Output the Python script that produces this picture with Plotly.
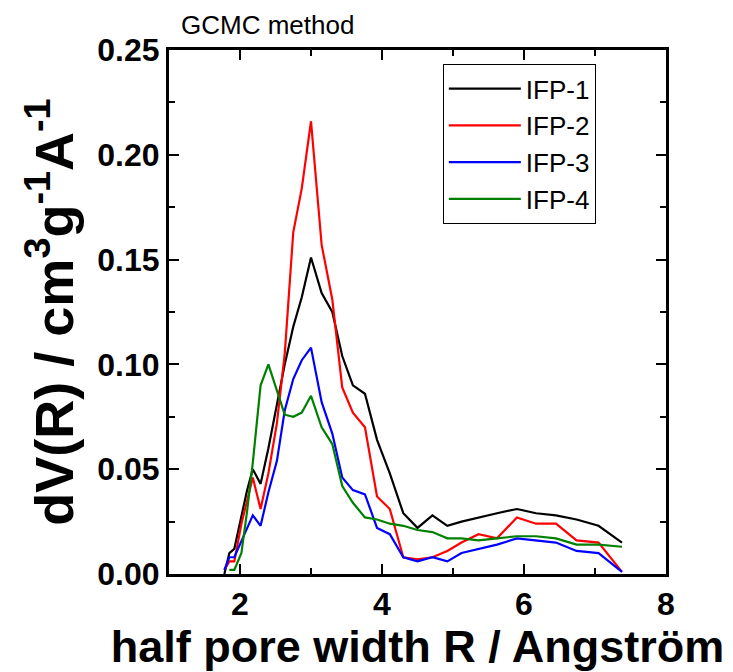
import plotly.graph_objects as go

radius = [1.78, 1.85, 1.92, 2.02, 2.10, 2.18, 2.29, 2.40, 2.52, 2.63, 2.75, 2.87, 3.00,
          3.15, 3.30, 3.44, 3.59, 3.76, 3.93, 4.11, 4.30, 4.50, 4.71, 4.92, 5.12, 5.36,
          5.62, 5.90, 6.17, 6.45, 6.74, 7.05, 7.38]

ifp1 = [0.000, 0.010, 0.012, 0.028, 0.040, 0.050, 0.043, 0.060, 0.080, 0.100, 0.118, 0.132, 0.151,
        0.134, 0.125, 0.104, 0.090, 0.086, 0.064, 0.048, 0.029, 0.022, 0.028, 0.023, 0.025, 0.027,
        0.029, 0.031, 0.029, 0.028, 0.026, 0.023, 0.015]
ifp2 = [0.002, 0.006, 0.006, 0.024, 0.035, 0.046, 0.031, 0.048, 0.072, 0.105, 0.163, 0.184, 0.216,
        0.157, 0.131, 0.089, 0.077, 0.070, 0.037, 0.031, 0.008, 0.007, 0.008, 0.011, 0.015, 0.019,
        0.017, 0.027, 0.024, 0.024, 0.016, 0.015, 0.001]
ifp3 = [0.002, 0.008, 0.008, 0.016, 0.022, 0.028, 0.023, 0.039, 0.054, 0.078, 0.093, 0.102, 0.108,
        0.082, 0.067, 0.046, 0.040, 0.038, 0.022, 0.019, 0.008, 0.006, 0.008, 0.006, 0.010, 0.012,
        0.014, 0.017, 0.016, 0.015, 0.011, 0.010, 0.001]
ifp4 = [None, 0.002, 0.002, 0.010, 0.030, 0.053, 0.090, 0.100, 0.088, 0.076, 0.075, 0.077, 0.085,
        0.070, 0.062, 0.042, 0.034, 0.027, 0.026, 0.024, 0.023, 0.021, 0.020, 0.017, 0.017, 0.016,
        0.017, 0.018, 0.018, 0.017, 0.014, 0.014, 0.013]

names = ["IFP-1", "IFP-2", "IFP-3", "IFP-4"]
colors = ["#000000", "#FF0000", "#0000FF", "#008000"]
series = [ifp1, ifp2, ifp3, ifp4]

fig = go.Figure()
for n, c, s in zip(names, colors, series):
    fig.add_trace(go.Scatter(x=radius, y=s, mode="lines", name=n,
                             line=dict(color=c, width=2.2)))

axis_common = dict(
    showline=True, linecolor="black", linewidth=3, mirror="allticks",
    ticks="inside", ticklen=10, tickwidth=2, tickcolor="black",
    showgrid=False, zeroline=False,
    tickfont=dict(family="Arial", size=32, color="black", weight="bold"),
    minor=dict(ticks="inside", ticklen=6, tickwidth=2, tickcolor="black"),
)

fig.update_xaxes(range=[1, 8], tickvals=[2, 4, 6, 8], ticktext=["2", "4", "6", "8"],
                 minor_tickvals=[1, 3, 5, 7],
                 title=dict(text="half pore width R / Angström",
                            font=dict(family="Arial", size=45, color="black", weight="bold"),
                            standoff=4),
                 **axis_common)
fig.update_yaxes(range=[0, 0.25], tickvals=[0, 0.05, 0.10, 0.15, 0.20, 0.25],
                 ticktext=["0.00", "0.05", "0.10", "0.15", "0.20", "0.25"],
                 minor_tickvals=[0.025, 0.075, 0.125, 0.175, 0.225],
                 title=dict(text="dV(R) / cm<sup>3</sup>g<sup>-1</sup>A<sup>-1</sup>",
                            font=dict(family="Arial", size=54, color="black", weight="bold"),
                            standoff=7),
                 **axis_common)

fig.update_layout(
    width=733, height=672,
    margin=dict(l=169, r=67, t=50, b=98),
    plot_bgcolor="white", paper_bgcolor="white",
    showlegend=True,
    legend=dict(x=0.551, y=0.973, xanchor="left", yanchor="top",
                bordercolor="black", borderwidth=1, bgcolor="white",
                itemwidth=72,
                font=dict(family="Arial", size=26, color="black")),
    annotations=[dict(text="GCMC method", x=0.02, y=1.0, xref="paper", yref="paper",
                      xanchor="left", yanchor="bottom", yshift=8, showarrow=False,
                      font=dict(family="Arial", size=26, color="black"))],
)

fig.write_html("out.html")
